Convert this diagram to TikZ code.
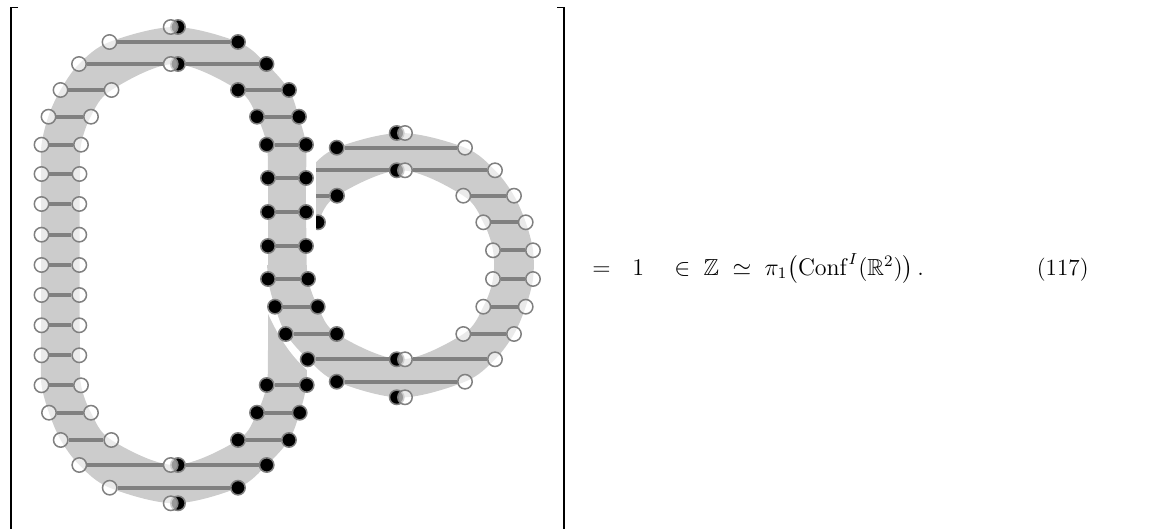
\documentclass[tikz,border=0pt]{standalone}
\usepackage{amsmath,amssymb}
\definecolor{bandgray}{HTML}{CCCCCC}
\definecolor{edgegray}{HTML}{808080}
\tikzset{
  wn/.style={circle,draw=edgegray,line width=0.75pt,fill=white,fill opacity=0.6,minimum size=7.2pt,inner sep=0pt},
  bn/.style={circle,draw=edgegray,line width=0.75pt,fill=black,minimum size=7.2pt,inner sep=0pt},
  rungline/.style={draw=edgegray,line width=2pt},
  bandfill/.style={fill=bandgray,even odd rule},
  bracketline/.style={draw=black,line width=0.85pt},
  formula/.style={inner sep=0pt,font=\fontsize{11.6}{14}\selectfont}
}
\newcommand{\rung}[6]{%
  \node[#2] (#1a) at (#3,#6) {};
  \node[#4] (#1b) at (#5,#6) {};
  \draw[rungline] (#1a) -- (#1b);}
\newcommand{\duo}[4]{% first black, then white over it
  \node[bn] (#1a) at (#2,#4) {};
  \node[wn] (#1b) at (#3,#4) {};}
\begin{document}
\begin{tikzpicture}[x=0.5pt,y=-0.5pt]
\useasboundingbox (0,0) rectangle (1150,529);
% brackets
\coordinate (lt) at (18,7.5); \coordinate (lc) at (10.7,7.5); \coordinate (lb) at (10.7,529);
\coordinate (rt) at (557,7.5); \coordinate (rc) at (564.3,7.5); \coordinate (rb) at (564.3,529);
\draw[bracketline] (lt) -- (lc) -- (lb);
\draw[bracketline] (rt) -- (rc) -- (rb);
% oval band
\fill[bandfill]
 plot[smooth cycle,tension=0.55] coordinates {(174.3,27)(109.5,42)(79,64)(60.5,90)(48.5,116)(41.5,144.7)(41,174)(41,204)(41,235)(41,265)(41,295)(41,325)(41,355)(41.5,385)(49,412.7)(60.7,440)(79.3,465)(109.7,487.7)(174.3,503.3)(238,487.7)(266.7,465)(289,440)(299.7,412.7)(306.3,385)(306.7,350)(306.7,300)(306.5,246)(306,212)(306,178)(306,144.7)(298.7,116.7)(289,90)(266.5,64)(238,42)}
 plot[smooth cycle,tension=0.55] coordinates {(174.3,64)(111.5,90)(91,116)(81,144.7)(80,174)(79.7,204)(79.7,235)(79.7,265)(79.7,295)(79.7,325)(80,355)(81,385)(91,412.7)(111.3,440)(174.3,465)(238,440)(257,412.7)(266.7,385)(268,350)(268,300)(268,246)(268,212)(268,178)(266.7,144.7)(257,116.7)(238,90)};
% gap where the ring passes in front of the oval
\fill[white] (262,272) -- (312,272) -- (312,372) -- (307,370) .. controls (288,353) and (277,333) .. (267.7,313) -- (262,313) -- cycle;
% ring band, behind the oval in its upper half
\begin{scope}
\clip (316,100) rectangle (560,265) (250,265) rectangle (560,410);
\fill[bandfill]
 plot[smooth cycle,tension=0.55] coordinates {(401,133)(465,147.7)(495,170.3)(514,195.7)(525.7,222.3)(533,250.3)(533,279)(525.7,306.7)(514,334)(495,359.3)(465,381.7)(401,397.5)(337,381.7)(308,359.3)(286,334)(275,306.7)(268,279)(268,250)(275,222)(286,195.7)(308,170.3)(337,147.7)}
 plot[smooth cycle,tension=0.55] coordinates {(401,170.3)(463.3,195.7)(483.3,222.3)(493,250.3)(493,279)(483.3,306.7)(463.3,334)(401,359.3)(337,334)(318,306.7)(308,279)(308,250)(318,222)(337,195.7)};
\end{scope}
\begin{scope}
\clip (316,100) rectangle (560,265);
\rung{ra}{bn}{308}{bn}{396.7}{170.3}
\rung{rb}{bn}{286}{bn}{337}{195.7}
\rung{rc}{bn}{275}{bn}{318}{222.3}
\rung{rd}{bn}{268}{bn}{308}{250.3}
\end{scope}
% ring rungs
\duo{rtop}{396.7}{405}{133}
\rung{re}{bn}{336.7}{wn}{465}{147.7}
\rung{rf}{wn}{405}{wn}{495}{170.3}
\rung{rg}{wn}{463.3}{wn}{514}{195.7}
\rung{rh}{wn}{483.3}{wn}{525.7}{222.3}
\rung{ri}{wn}{493}{wn}{533}{250.3}
\rung{rj}{wn}{493}{wn}{533}{279}
\rung{rk}{wn}{483.3}{wn}{525.7}{306.7}
\rung{rl}{wn}{463.3}{wn}{514}{334}
\rung{rm}{bn}{307.7}{bn}{396.7}{359.3}
\rung{rn}{wn}{405}{wn}{495}{359.3}
\rung{ro}{bn}{336.7}{wn}{465}{381.7}
\duo{rbot}{396.7}{405}{397.3}
\rung{rp}{bn}{268}{bn}{308}{279}
\rung{rq}{bn}{275}{bn}{317.7}{306.7}
\rung{rr}{bn}{285.7}{bn}{336.7}{334}
% oval rungs: top
\duo{otop}{178}{170.7}{27}
\rung{oa}{wn}{109.5}{bn}{238}{42}
\rung{ob}{bn}{178}{bn}{266.5}{64}
\rung{oc}{wn}{79}{wn}{170.7}{64}
\rung{od}{wn}{60.5}{wn}{111.5}{90}
\rung{oe}{bn}{238}{bn}{289}{90}
\rung{of}{wn}{48.5}{wn}{91}{116.7}
\rung{og}{bn}{257}{bn}{299}{116.7}
% oval rungs: sides
\rung{oh}{wn}{41.5}{wn}{81}{144.7}
\rung{oi}{wn}{41.5}{wn}{79.5}{174}
\rung{oj}{wn}{41.5}{wn}{79.3}{204}
\rung{ok}{wn}{41.5}{wn}{79.3}{234.7}
\rung{ol}{wn}{41.5}{wn}{79.3}{265}
\rung{om}{wn}{41.5}{wn}{79.3}{295}
\rung{on}{wn}{41.5}{wn}{79.3}{325.3}
\rung{oo}{wn}{41.5}{wn}{79.3}{355.3}
\rung{op}{wn}{41.5}{wn}{81}{385.3}
\rung{oq}{bn}{266.7}{bn}{306}{144.7}
\rung{or}{bn}{268}{bn}{306}{178}
\rung{os}{bn}{268}{bn}{306}{212}
\rung{ot}{bn}{268}{bn}{306}{246}
\rung{ou}{bn}{266.7}{bn}{306.7}{385}
% oval rungs: bottom
\rung{ov}{wn}{49}{wn}{91}{412.7}
\rung{ow}{bn}{257}{bn}{299.7}{412.7}
\rung{ox}{wn}{60.7}{wn}{111.3}{440}
\rung{oy}{bn}{238}{bn}{289}{440}
\rung{oz}{bn}{178}{bn}{266.7}{465}
\rung{pa}{wn}{79.3}{wn}{170.7}{465}
\rung{pb}{wn}{109.7}{bn}{238}{487.7}
\duo{obot}{178}{170.7}{503.3}
% formula
\node[formula,anchor=base west] (eqa) at (592,275) {$=$};
\node[formula,anchor=base west] (eqb) at (632,275) {$1$};
\node[formula,anchor=base west] (eqc) at (674,275) {$\in\;\mathbb{Z}\;\simeq\;\pi_1\big(\mathrm{Conf}^I(\mathbb{R}^2)\big)\,.$};
\node[formula,anchor=base east] (tag) at (1089,275) {(117)};
\end{tikzpicture}
\end{document}
